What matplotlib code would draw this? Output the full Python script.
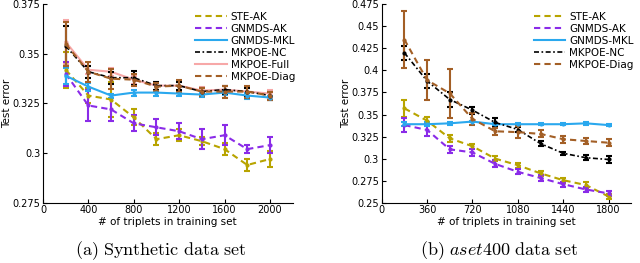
import matplotlib.pyplot as plt
from matplotlib.lines import Line2D

plt.rcParams['mathtext.fontset'] = 'cm'

# (a) synthetic data set
x_a = [200, 400, 600, 800, 1000, 1200, 1400, 1600, 1800, 2000]
ste_a = [0.342, 0.329, 0.327, 0.318, 0.307, 0.309, 0.306, 0.302, 0.294, 0.297]
ste_a_err = [0.009, 0.004, 0.009, 0.004, 0.003, 0.003, 0.002, 0.003, 0.003, 0.004]
gnak_a = [0.340, 0.324, 0.322, 0.315, 0.313, 0.311, 0.307, 0.309, 0.302, 0.304]
gnak_a_err = [0.006, 0.008, 0.006, 0.004, 0.004, 0.004, 0.005, 0.005, 0.002, 0.004]
mkl_a = [0.339, 0.3335, 0.329, 0.3305, 0.3305, 0.330, 0.3295, 0.3305, 0.329, 0.328]
mkl_a_err = [0.004, 0.002, 0.001, 0.0015, 0.0015, 0.001, 0.001, 0.001, 0.0015, 0.001]
nc_a = [0.354, 0.341, 0.338, 0.338, 0.334, 0.334, 0.331, 0.332, 0.331, 0.329]
nc_a_err = [0.010, 0.003, 0.003, 0.0035, 0.002, 0.002, 0.002, 0.002, 0.002, 0.002]
full_a = [0.356, 0.342, 0.341, 0.337, 0.334, 0.334, 0.3315, 0.332, 0.331, 0.330]
full_a_err = [0.011, 0.002, 0.002, 0.002, 0.002, 0.002, 0.002, 0.002, 0.002, 0.002]
diag_a = [0.355, 0.341, 0.3375, 0.337, 0.3335, 0.334, 0.331, 0.331, 0.331, 0.329]
diag_a_err = [0.011, 0.005, 0.005, 0.003, 0.002, 0.003, 0.002, 0.003, 0.003, 0.002]

# (b) aset400 data set
x_b = [180, 360, 540, 720, 900, 1080, 1260, 1440, 1620, 1800]
ste_b = [0.357, 0.343, 0.323, 0.314, 0.300, 0.2925, 0.2833, 0.2755, 0.270, 0.257]
ste_b_err = [0.010, 0.004, 0.004, 0.003, 0.003, 0.003, 0.003, 0.003, 0.003, 0.003]
gnak_b = [0.338, 0.3325, 0.3105, 0.307, 0.294, 0.285, 0.278, 0.271, 0.265, 0.2605]
gnak_b_err = [0.008, 0.007, 0.004, 0.004, 0.004, 0.003, 0.003, 0.003, 0.003, 0.003]
mkl_b = [0.339, 0.339, 0.340, 0.342, 0.339, 0.339, 0.339, 0.339, 0.340, 0.338]
mkl_b_err = [0.002, 0.002, 0.0015, 0.001, 0.001, 0.001, 0.001, 0.001, 0.002, 0.001]
nc_b = [0.420, 0.388, 0.367, 0.355, 0.341, 0.333, 0.317, 0.306, 0.301, 0.299]
nc_b_err = [0.008, 0.008, 0.008, 0.004, 0.005, 0.003, 0.003, 0.002, 0.003, 0.004]
diag_b = [0.435, 0.389, 0.374, 0.345, 0.331, 0.330, 0.328, 0.322, 0.320, 0.318]
diag_b_err = [0.032, 0.023, 0.028, 0.007, 0.004, 0.007, 0.004, 0.004, 0.003, 0.004]

c_ste = '#b8a400'
c_gnak = '#8a2be8'
c_mkl = '#2aa8ee'
c_nc = 'black'
c_full = '#f7a8a8'
c_diag = '#a35f26'
dash = (0, (3, 2))
dashdot = (0, (3, 1.5, 1, 1.5))

fig = plt.figure(figsize=(6.4, 2.63), dpi=100)
ax1 = fig.add_axes([0.0672, 0.2293, 0.39, 0.7544])
ax2 = fig.add_axes([0.5964, 0.2293, 0.39, 0.7544])


def draw(ax, x, y, e, color, ls, label, lw=1.5, z=2):
    ax.errorbar(x, y, yerr=e, color=color, ls=ls, lw=lw, marker='.', ms=4,
                elinewidth=1.5, capsize=2, capthick=1.5, zorder=z)
    return Line2D([], [], color=color, ls=ls, lw=lw, label=label)


h1 = [
    draw(ax1, x_a, ste_a, ste_a_err, c_ste, dash, 'STE-AK'),
    draw(ax1, x_a, gnak_a, gnak_a_err, c_gnak, dash, 'GNMDS-AK'),
    draw(ax1, x_a, mkl_a, mkl_a_err, c_mkl, '-', 'GNMDS-MKL'),
    draw(ax1, x_a, nc_a, nc_a_err, c_nc, dashdot, 'MKPOE-NC', lw=1.2),
    draw(ax1, x_a, full_a, full_a_err, c_full, '-', 'MKPOE-Full', z=1),
    draw(ax1, x_a, diag_a, diag_a_err, c_diag, dash, 'MKPOE-Diag'),
]
h2 = [
    draw(ax2, x_b, ste_b, ste_b_err, c_ste, dash, 'STE-AK'),
    draw(ax2, x_b, gnak_b, gnak_b_err, c_gnak, dash, 'GNMDS-AK'),
    draw(ax2, x_b, mkl_b, mkl_b_err, c_mkl, '-', 'GNMDS-MKL'),
    draw(ax2, x_b, nc_b, nc_b_err, c_nc, dashdot, 'MKPOE-NC', lw=1.2),
    draw(ax2, x_b, diag_b, diag_b_err, c_diag, dash, 'MKPOE-Diag'),
]

ax1.set_xlim(0, 2200)
ax1.set_ylim(0.275, 0.375)
ax1.set_xticks([0, 400, 800, 1200, 1600, 2000])
ax1.set_yticks([0.275, 0.3, 0.325, 0.35, 0.375])
ax1.set_yticklabels(['0.275', '0.3', '0.325', '0.35', '0.375'])

ax2.set_xlim(0, 1980)
ax2.set_ylim(0.25, 0.475)
ax2.set_xticks([0, 360, 720, 1080, 1440, 1800])
ax2.set_yticks([0.25, 0.275, 0.3, 0.325, 0.35, 0.375, 0.4, 0.425, 0.45, 0.475])
ax2.set_yticklabels(['0.25', '0.275', '0.3', '0.325', '0.35', '0.375', '0.4',
                     '0.425', '0.45', '0.475'])

for ax, hs, lx in ((ax1, h1, -0.125), (ax2, h2, -0.122)):
    ax.spines['top'].set_visible(False)
    ax.spines['right'].set_visible(False)
    ax.tick_params(direction='in', length=3, labelsize=7, pad=2)
    ax.set_ylabel('Test error', fontsize=7.5)
    ax.yaxis.set_label_coords(lx, 0.5)
    ax.set_xlabel('# of triplets in training set', fontsize=7.5, labelpad=1)
    ax.legend(handles=hs, loc='upper right', bbox_to_anchor=(1.04, 1.0), frameon=False,
              fontsize=7.5, handlelength=3, handletextpad=0.4,
              labelspacing=0.2, borderaxespad=0.3)

fig.text(0.252, 0.03, r'$\mathrm{(a)\ Synthetic\ data\ set}$', ha='center', fontsize=13)
fig.text(0.78, 0.03, r'$\mathrm{(b)}\ \mathit{aset400}\ \mathrm{data\ set}$', ha='center', fontsize=13)

fig.savefig('out.png', dpi=100)
